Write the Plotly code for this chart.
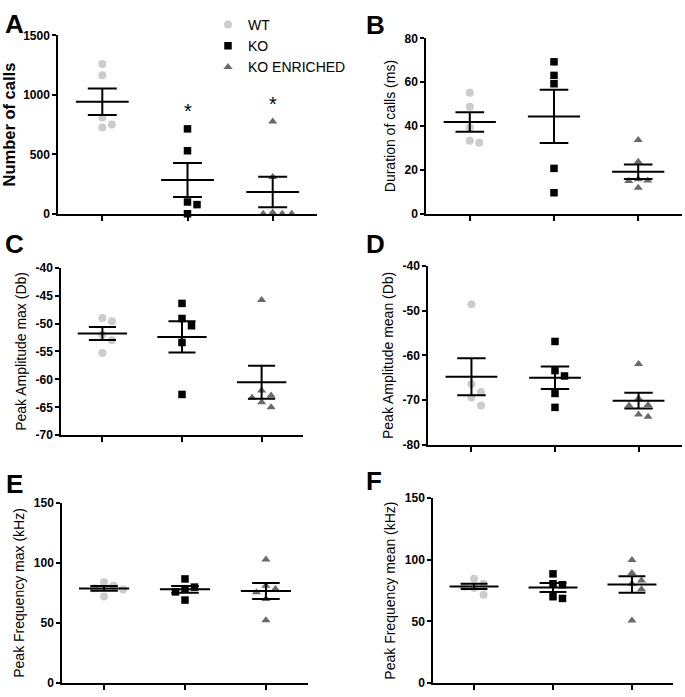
import numpy as np
import plotly.graph_objects as go

W, H = 685, 697
groups = ["WT", "KO", "KO ENRICHED"]

# ---- data ----
calls_wt = [1260, 1165, 810, 725, 750]
calls_ko = [714, 530, 99, 77, 0]
calls_koe = [777, 310, 0, 0, 0, 10]

dur_wt = [55.2, 48.8, 39.4, 32.4, 33.3]
dur_ko = [69.3, 63.1, 59.3, 20.7, 9.6]
dur_koe = [33.6, 23.7, 15.2, 14.9, 15.7, 11.9]

ampmax_wt = [-49.0, -49.6, -52.0, -53.0, -55.3]
ampmax_ko = [-46.4, -49.1, -50.4, -53.4, -62.7]
ampmax_koe = [-45.8, -62.0, -63.3, -62.9, -64.1, -65.0]

ampmean_wt = [-48.6, -66.4, -68.2, -69.4, -71.2]
ampmean_ko = [-56.9, -63.4, -64.6, -68.5, -71.6]
ampmean_koe = [-61.9, -69.6, -71.2, -71.1, -73.2, -73.7]

freqmax_wt = [84.0, 81.0, 79.0, 78.0, 72.0]
freqmax_ko = [86.7, 79.9, 78.6, 75.9, 69.1]
freqmax_koe = [102.9, 81.0, 78.3, 75.6, 69.9, 52.3]

freqmean_wt = [84.5, 80.5, 78.0, 77.0, 71.5]
freqmean_ko = [88.5, 80.5, 79.7, 70.0, 68.6]
freqmean_koe = [99.8, 89.3, 83.2, 80.5, 76.0, 50.7]

titles = ["Number of calls", "Duration of calls (ms)", "Peak Amplitude max (Db)",
          "Peak Amplitude mean (Db)", "Peak Frequency max (kHz)", "Peak Frequency mean (kHz)"]
letters = ["A", "B", "C", "D", "E", "F"]
yranges = [[0, 1500], [0, 80], [-70, -40], [-80, -40], [0, 150], [0, 150]]
yticks = [[0, 500, 1000, 1500], [0, 20, 40, 60, 80], [-70, -65, -60, -55, -50, -45, -40],
          [-80, -70, -60, -50, -40], [0, 50, 100, 150], [0, 50, 100, 150]]
significant = [[False, True, True], [False] * 3, [False] * 3, [False] * 3, [False] * 3, [False] * 3]

datasets = [
    [calls_wt, calls_ko, calls_koe],
    [dur_wt, dur_ko, dur_koe],
    [ampmax_wt, ampmax_ko, ampmax_koe],
    [ampmean_wt, ampmean_ko, ampmean_koe],
    [freqmax_wt, freqmax_ko, freqmax_koe],
    [freqmean_wt, freqmean_ko, freqmean_koe],
]

# ---- layout (pixel boxes of each plot area) ----
boxes = [  # x0, x1, y0(top), y1(bottom)
    (58, 317, 29, 211),
    (426, 682, 32, 211),
    (61, 303, 266, 437),
    (428, 682, 264, 447),
    (62, 308, 506, 690),
    (433, 673, 501, 690),
]
letter_pos = [(3, 0), (364, 1), (3, 224), (364, 224), (4, 469), (364, 466)]
XR = [-0.52, 2.52]

colors = ["#cccccc", "#000000", "#6a6a6a"]
symbols = ["circle", "square", "triangle-up"]
FONT = "Liberation Sans, Arial, sans-serif"


def swarm(vals, ppy, ppx, d=8.5, step=9.5):
    vals = np.asarray(vals, float)
    order = np.argsort(-vals, kind="stable")
    placed = []
    offs = np.zeros(len(vals))
    cands = [0]
    for j in range(1, 10):
        cands += [j, -j]
    for i in order:
        y = vals[i] * ppy
        x = 0.0
        for c in cands:
            x = c * step
            if all((x - px) ** 2 + (y - py) ** 2 >= d * d for px, py in placed):
                break
        placed.append((x, y))
        offs[i] = x / ppx
    return offs


fig = go.Figure()
layout = dict(width=W, height=H, margin=dict(l=0, r=0, t=0, b=0),
              paper_bgcolor="white", plot_bgcolor="white", font=dict(family=FONT, color="black"),
              showlegend=True)
annotations = []

for p in range(6):
    x0, x1, y0, y1 = boxes[p]
    sfx = "" if p == 0 else str(p + 1)
    xa, ya = "x" + sfx, "y" + sfx
    ppy = (y1 - y0) / (yranges[p][1] - yranges[p][0])
    ppx = (x1 - x0) / (XR[1] - XR[0])
    lx, ly = [], []
    for g in range(3):
        vals = datasets[p][g]
        offs = swarm(vals, ppy, ppx)
        fig.add_trace(go.Scatter(
            x=g + offs, y=vals, mode="markers", xaxis=xa, yaxis=ya,
            name=groups[g], showlegend=(p == 0), cliponaxis=False,
            marker=dict(symbol=symbols[g], color=colors[g], size=8 if g != 1 else 7.5, line=dict(width=0)),
        ))
        m = float(np.mean(vals))
        s = float(np.std(vals, ddof=1) / np.sqrt(len(vals)))
        lx += [g - 0.31, g + 0.31, None, g - 0.17, g + 0.17, None, g - 0.17, g + 0.17, None, g, g, None]
        ly += [m, m, None, m + s, m + s, None, m - s, m - s, None, m - s, m + s, None]
        if significant[p][g]:
            rng = yranges[p][1] - yranges[p][0]
            annotations.append(dict(x=g, y=max(vals) + 0.1 * rng, xref=xa, yref=ya, text="*",
                                    showarrow=False, font=dict(size=20, family=FONT)))
    fig.add_trace(go.Scatter(x=lx, y=ly, mode="lines", xaxis=xa, yaxis=ya, showlegend=False,
                             line=dict(color="black", width=2), cliponaxis=False, hoverinfo="skip"))

    layout["xaxis" + sfx] = dict(domain=[x0 / W, x1 / W], range=XR, anchor=ya,
                                 tickvals=[0, 1, 2], showticklabels=False, ticks="outside",
                                 ticklen=5, tickwidth=1.5, tickcolor="black",
                                 showline=True, linecolor="black", linewidth=1.5,
                                 showgrid=False, zeroline=False, fixedrange=True)
    layout["yaxis" + sfx] = dict(domain=[1 - y1 / H, 1 - y0 / H], range=yranges[p], anchor=xa,
                                 tickvals=yticks[p], ticktext=[str(v) for v in yticks[p]],
                                 ticks="outside", ticklen=4, tickwidth=1.5,
                                 tickcolor="black", showline=True, linecolor="black", linewidth=1.5,
                                 showgrid=False, zeroline=False,
                                 tickfont=dict(size=12, weight="bold", family=FONT),
                                 title=dict(text=titles[p], standoff=6,
                                            font=dict(size=16.5 if p == 0 else 14,
                                                      weight="bold" if p == 0 else "normal",
                                                      family=FONT)))
    lxp, lyp = letter_pos[p]
    annotations.append(dict(x=lxp / W, y=1 - lyp / H, xref="paper", yref="paper", text=letters[p],
                            showarrow=False, xanchor="left", yanchor="top",
                            font=dict(size=26, weight="bold", family=FONT)))

layout["annotations"] = annotations
layout["legend"] = dict(x=208 / W, y=1 - 2 / H, xanchor="left", yanchor="top",
                        bgcolor="rgba(0,0,0,0)", font=dict(size=14, family=FONT),
                        tracegroupgap=0, itemwidth=30)
fig.update_layout(**layout)
fig.write_html("out.html", config={"displayModeBar": False},
               post_script="document.body.style.margin='0px';document.body.style.overflow='hidden';")
